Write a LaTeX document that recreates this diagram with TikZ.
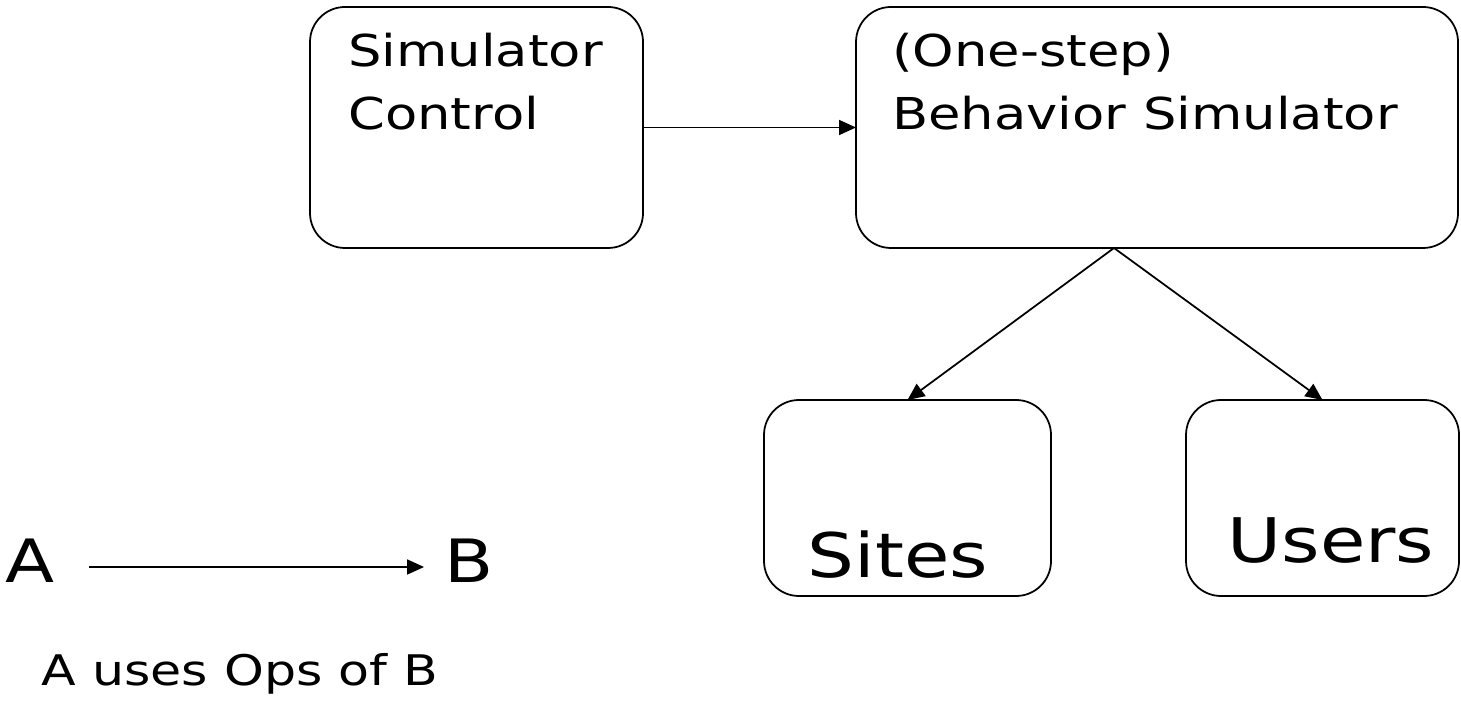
\documentclass[tikz,border=0pt]{standalone}
\usepackage{fontspec}
\setmainfont{DejaVu Sans}[FakeStretch=1.2]
\usetikzlibrary{positioning,arrows.meta,calc}

\tikzset{
  box/.style={draw,line width=1pt,rounded corners=0.7cm,inner sep=0pt,outer sep=0pt},
  boxtext/.style={anchor=base west,inner sep=0pt,align=left,font=\fontsize{25}{36}\selectfont},
  bigtext/.style={anchor=base,inner sep=0pt,font=\fontsize{35}{40}\selectfont},
  uses/.style={-{Triangle[length=0.34cm,width=0.3cm]},line width=1pt},
}

\begin{document}
\begin{tikzpicture}
  \useasboundingbox (0,0) rectangle (29.22,14);
  % the four parts
  \node[box,minimum width=6.66cm,minimum height=4.82cm](ctrl) at (9.53,11.45){};
  \node[box,minimum width=12.04cm,minimum height=4.82cm](beh) at (23.14,11.45){};
  \node[box,minimum width=5.74cm,minimum height=3.92cm](sites) at (18.15,4.04){};
  \node[box,minimum width=5.46cm,minimum height=3.92cm](users) at (26.45,4.04){};
  \node[boxtext](ctrltext) at (6.96,11.40){Simulator\\Control};
  \node[boxtext](behtext) at (17.84,11.40){(One-step)\\Behavior Simulator};
  \node[bigtext](sitestext) at (17.96,2.46){Sites};
  \node[bigtext](userstext) at (26.62,2.76){Users};
  \coordinate (fork) at ($(beh.south)+(-0.86,0)$);
  \path[uses]
    (ctrl) edge (beh)
    (fork) edge (sites.north)
    (fork) edge (users.north)
  ;
  % legend
  \node[bigtext,font=\fontsize{34}{40}\selectfont](a) at (0.6,2.36){A};
  \node[bigtext,font=\fontsize{34}{40}\selectfont](b) at (9.38,2.36){B};
  \draw[uses] ([xshift=0.68cm,yshift=0.3cm]a.base east) -- ([xshift=-0.4cm,yshift=0.3cm]b.base west);
  \node[bigtext,font=\fontsize{24}{30}\selectfont](note) at (4.8,0.3){A uses Ops of B};
\end{tikzpicture}
\end{document}
